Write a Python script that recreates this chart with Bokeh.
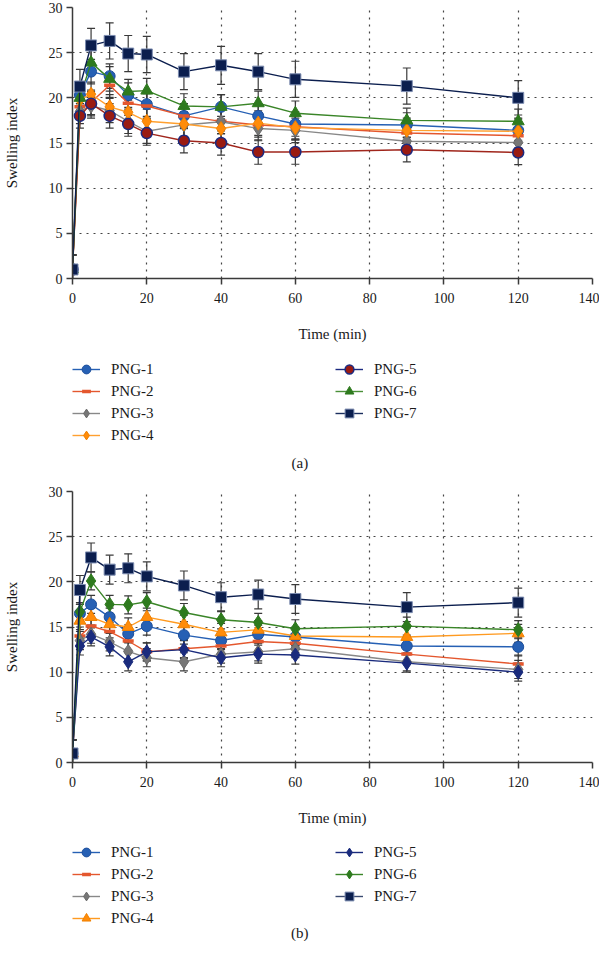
from bokeh.plotting import figure
from bokeh.models import (ColumnDataSource, Whisker, TeeHead, Legend, LegendItem,
                          FixedTicker, Label, Range1d)
from bokeh.layouts import column
from bokeh.embed import file_html
from bokeh.resources import INLINE

FONT = "Liberation Serif"
NAN = float("nan")

times = [0, 2, 5, 10, 15, 20, 30, 40, 50, 60, 90, 120]
labels = ["PNG-1", "PNG-2", "PNG-3", "PNG-4", "PNG-5", "PNG-6", "PNG-7"]
x_ticks = [0, 20, 40, 60, 80, 100, 120, 140]
y_ticks = [0, 5, 10, 15, 20, 25, 30]

# (a)
png1_a = [1.0, 20.3, 22.9, 22.4, 20.3, 19.3, 18.0, 19.0, 18.0, 17.1, 17.0, 16.4]
png2_a = [1.0, 19.0, 19.5, 21.4, 19.4, 19.1, 18.0, 17.4, 17.0, 16.8, 16.1, 15.8]
png3_a = [1.0, 18.5, 19.1, 18.6, 17.4, 16.3, 17.0, 17.35, 16.6, 16.4, 15.2, 15.05]
png4_a = [1.0, 19.8, 20.4, 19.0, 18.4, 17.4, 17.1, 16.6, 17.2, 16.7, 16.4, 16.3]
png5_a = [1.0, 18.0, 19.35, 18.0, 17.1, 16.1, 15.25, 15.0, 14.0, 14.0, 14.25, 13.95]
png6_a = [1.0, 20.0, 23.9, 22.1, 20.7, 20.8, 19.1, 19.0, 19.4, 18.3, 17.5, 17.4]
png7_a = [1.0, 21.25, 25.8, 26.3, 24.9, 24.8, 22.9, 23.6, 22.9, 22.05, 21.3, 20.0]
err_a_other = [1.6, 1.35, 1.35, 1.35, 1.35, 1.35, 1.35, 1.35, 1.35, 1.35, 1.35, 1.35]
err_a_png7 = [1.6, 1.9, 1.9, 2.0, 2.0, 2.0, 2.0, 2.1, 2.0, 2.0, 2.0, 1.9]

# (b)
png1_b = [1.0, 16.5, 17.5, 16.1, 14.25, 15.1, 14.1, 13.5, 14.2, 13.9, 12.9, 12.8]
png2_b = [1.0, 14.0, 15.1, 14.5, 13.45, 12.25, 12.6, 12.9, 13.4, 13.2, 12.0, 10.9]
png3_b = [1.0, 13.5, 14.2, 13.35, 12.3, 11.6, 11.15, 12.0, 12.25, 12.6, 11.15, 10.3]
png4_b = [1.0, 15.7, 16.1, 15.3, 15.0, 16.1, 15.3, 14.4, 14.7, 14.0, 13.9, 14.3]
png5_b = [1.0, 12.9, 13.9, 12.8, 11.15, 12.25, 12.5, 11.6, 12.0, 11.9, 11.0, 10.0]
png6_b = [1.0, 16.7, 20.1, 17.5, 17.45, 17.8, 16.6, 15.8, 15.5, 14.8, 15.1, 14.7]
png7_b = [1.0, 19.1, 22.7, 21.35, 21.5, 20.6, 19.6, 18.3, 18.6, 18.1, 17.2, 17.7]
err_b_other = [1.5, 1.0, 1.0, 1.0, 1.0, 1.0, 1.0, 1.0, 1.0, 1.0, 1.0, 1.0]
err_b_png7 = [1.5, 1.6, 1.6, 1.6, 1.6, 1.6, 1.6, 1.6, 1.6, 1.6, 1.6, 1.6]

# styles: (marker, fill, outline, line colour, size, marker line width, legend line colour)
styles_a = [
    ("circle", "#2660b4", "#1d4f9c", "#2660b4", 11, 1, "#2660b4"),
    ("dash", "#e4572e", "#e4572e", "#e4572e", 11, 3.5, "#e4572e"),
    ("diamond", "#777777", "#6a6a6a", "#888888", 14, 1, "#888888"),
    ("diamond", "#ff8c0a", "#f08000", "#ffa030", 14, 1, "#ffa030"),
    ("circle", "#9a1b12", "#1b2a80", "#a0261c", 11, 1.5, "#1b2a80"),
    ("triangle", "#2e7a1e", "#2e7a1e", "#3a8528", 12, 1, "#4a9038"),
    ("square", "#0b1e4e", "#7c8cb0", "#0b1e4e", 11, 1, "#1b2e5e"),
]
styles_b = [
    ("circle", "#2660b4", "#1d4f9c", "#2660b4", 11, 1, "#2660b4"),
    ("dash", "#e4572e", "#e4572e", "#e4572e", 11, 3.5, "#e4572e"),
    ("diamond", "#777777", "#6a6a6a", "#888888", 14, 1, "#888888"),
    ("triangle", "#ff8c0a", "#f08000", "#ff9a20", 12, 1, "#ff9a20"),
    ("diamond", "#1a2b7d", "#1a2b7d", "#1a2b7d", 14, 1, "#1a2b7d"),
    ("diamond", "#2e7a1e", "#2e7a1e", "#3a8528", 14, 1, "#3a8528"),
    ("square", "#0b1e4e", "#7c8cb0", "#0b1e4e", 11, 1, "#3a4a70"),
]

W = 599


def add_series(p, x, vals, st, legend=False):
    marker, fill, outline, lcol, size, mlw, leg_lcol = st
    lr = p.line(x, vals, line_color=leg_lcol if legend else lcol, line_width=1.4)
    if marker == "dash":
        mr = p.scatter(x, vals, marker="dash", size=size, line_color=fill,
                       line_width=mlw)
    else:
        mr = p.scatter(x, vals, marker=marker, size=size, fill_color=fill,
                       line_color=outline, line_width=mlw)
    return lr, mr


def make_chart(series, errs, styles):
    p = figure(width=W, height=348, min_border_left=66, min_border_right=7,
               min_border_top=7, min_border_bottom=70,
               x_range=Range1d(0, 140), y_range=Range1d(0, 30),
               output_backend="svg", toolbar_location=None)
    p.outline_line_color = None
    for ax in (p.xaxis, p.yaxis):
        ax.axis_line_color = "#3a3a3a"
        ax.axis_line_width = 1.5
        ax.major_tick_line_color = "#3a3a3a"
        ax.major_tick_line_width = 1.5
        ax.major_tick_out = 6
        ax.major_tick_in = 0
        ax.minor_tick_line_color = None
        ax.major_label_text_font = FONT
        ax.major_label_text_font_size = "14px"
        ax.major_label_text_color = "#1a1a1a"
        ax.axis_label_text_font = FONT
        ax.axis_label_text_font_size = "15px"
        ax.axis_label_text_font_style = "normal"
        ax.axis_label_text_color = "#1a1a1a"
    p.xaxis.ticker = FixedTicker(ticks=x_ticks)
    p.yaxis.ticker = FixedTicker(ticks=y_ticks)
    p.xaxis.axis_label = "Time (min)"
    p.yaxis.axis_label = "Swelling index"
    p.xaxis.major_label_standoff = 8
    p.yaxis.major_label_standoff = 4
    p.xaxis.axis_label_standoff = 20
    p.yaxis.axis_label_standoff = 26

    p.xgrid.ticker = FixedTicker(ticks=x_ticks)
    p.ygrid.ticker = FixedTicker(ticks=y_ticks)
    for g in (p.xgrid, p.ygrid):
        g.grid_line_color = "#444444"
        g.grid_line_dash = "2 5"
        g.grid_line_width = 1.2

    for vals, err, st in zip(series, errs, styles):
        src = ColumnDataSource(dict(
            x=times,
            upper=[v + e for v, e in zip(vals, err)],
            lower=[v - e for v, e in zip(vals, err)]))
        w = Whisker(base="x", upper="upper", lower="lower", source=src,
                    level="underlay", line_color="#3a3a3a", line_width=1.2,
                    upper_head=TeeHead(size=8, line_color="#3a3a3a", line_width=1.2),
                    lower_head=TeeHead(size=8, line_color="#3a3a3a", line_width=1.2))
        p.add_layout(w)
        add_series(p, times, vals, st)
    return p


def make_legend_fig(styles, tag, height, first_row, tag_y):
    # frame of this figure is aligned with the chart frame above it
    q = figure(width=W, height=height, x_range=Range1d(0, 140),
               y_range=Range1d(0, height), min_border=0,
               x_axis_location=None, y_axis_location=None,
               output_backend="svg", toolbar_location=None)
    q.outline_line_color = None
    q.grid.visible = False
    items = []
    for st, lab in zip(styles, labels):
        lr, mr = add_series(q, [NAN], [NAN], st, legend=True)
        items.append(LegendItem(label=lab, renderers=[lr, mr]))
    gh = 22
    common = dict(orientation="vertical", glyph_width=28, glyph_height=gh,
                  label_height=gh, label_standoff=11, label_width=60, spacing=0,
                  padding=0, margin=0, label_text_font=FONT,
                  label_text_font_size="15px", label_text_color="#1a1a1a",
                  border_line_color=None, background_fill_alpha=0)
    top = first_row - gh // 2
    q.add_layout(Legend(items=items[:4], location=(0, height - top - 4 * gh), **common))
    q.add_layout(Legend(items=items[4:], location=(263, height - top - 3 * gh), **common))
    q.add_layout(Label(x=61.2, y=tag_y, text=tag, text_align="center",
                       text_baseline="middle", text_font=FONT,
                       text_font_size="15px", text_color="#1a1a1a"))
    return q


p1 = make_chart([png1_a, png2_a, png3_a, png4_a, png5_a, png6_a, png7_a],
                [err_a_other] * 6 + [err_a_png7], styles_a)
l1 = make_legend_fig(styles_a, "(a)", 136, 21, 22)
p2 = make_chart([png1_b, png2_b, png3_b, png4_b, png5_b, png6_b, png7_b],
                [err_b_other] * 6 + [err_b_png7], styles_b)
l2 = make_legend_fig(styles_b, "(b)", 109, 20, 9)

layout = column(p1, l1, p2, l2, spacing=0)
open("out.html", "w").write(file_html(layout, INLINE))
